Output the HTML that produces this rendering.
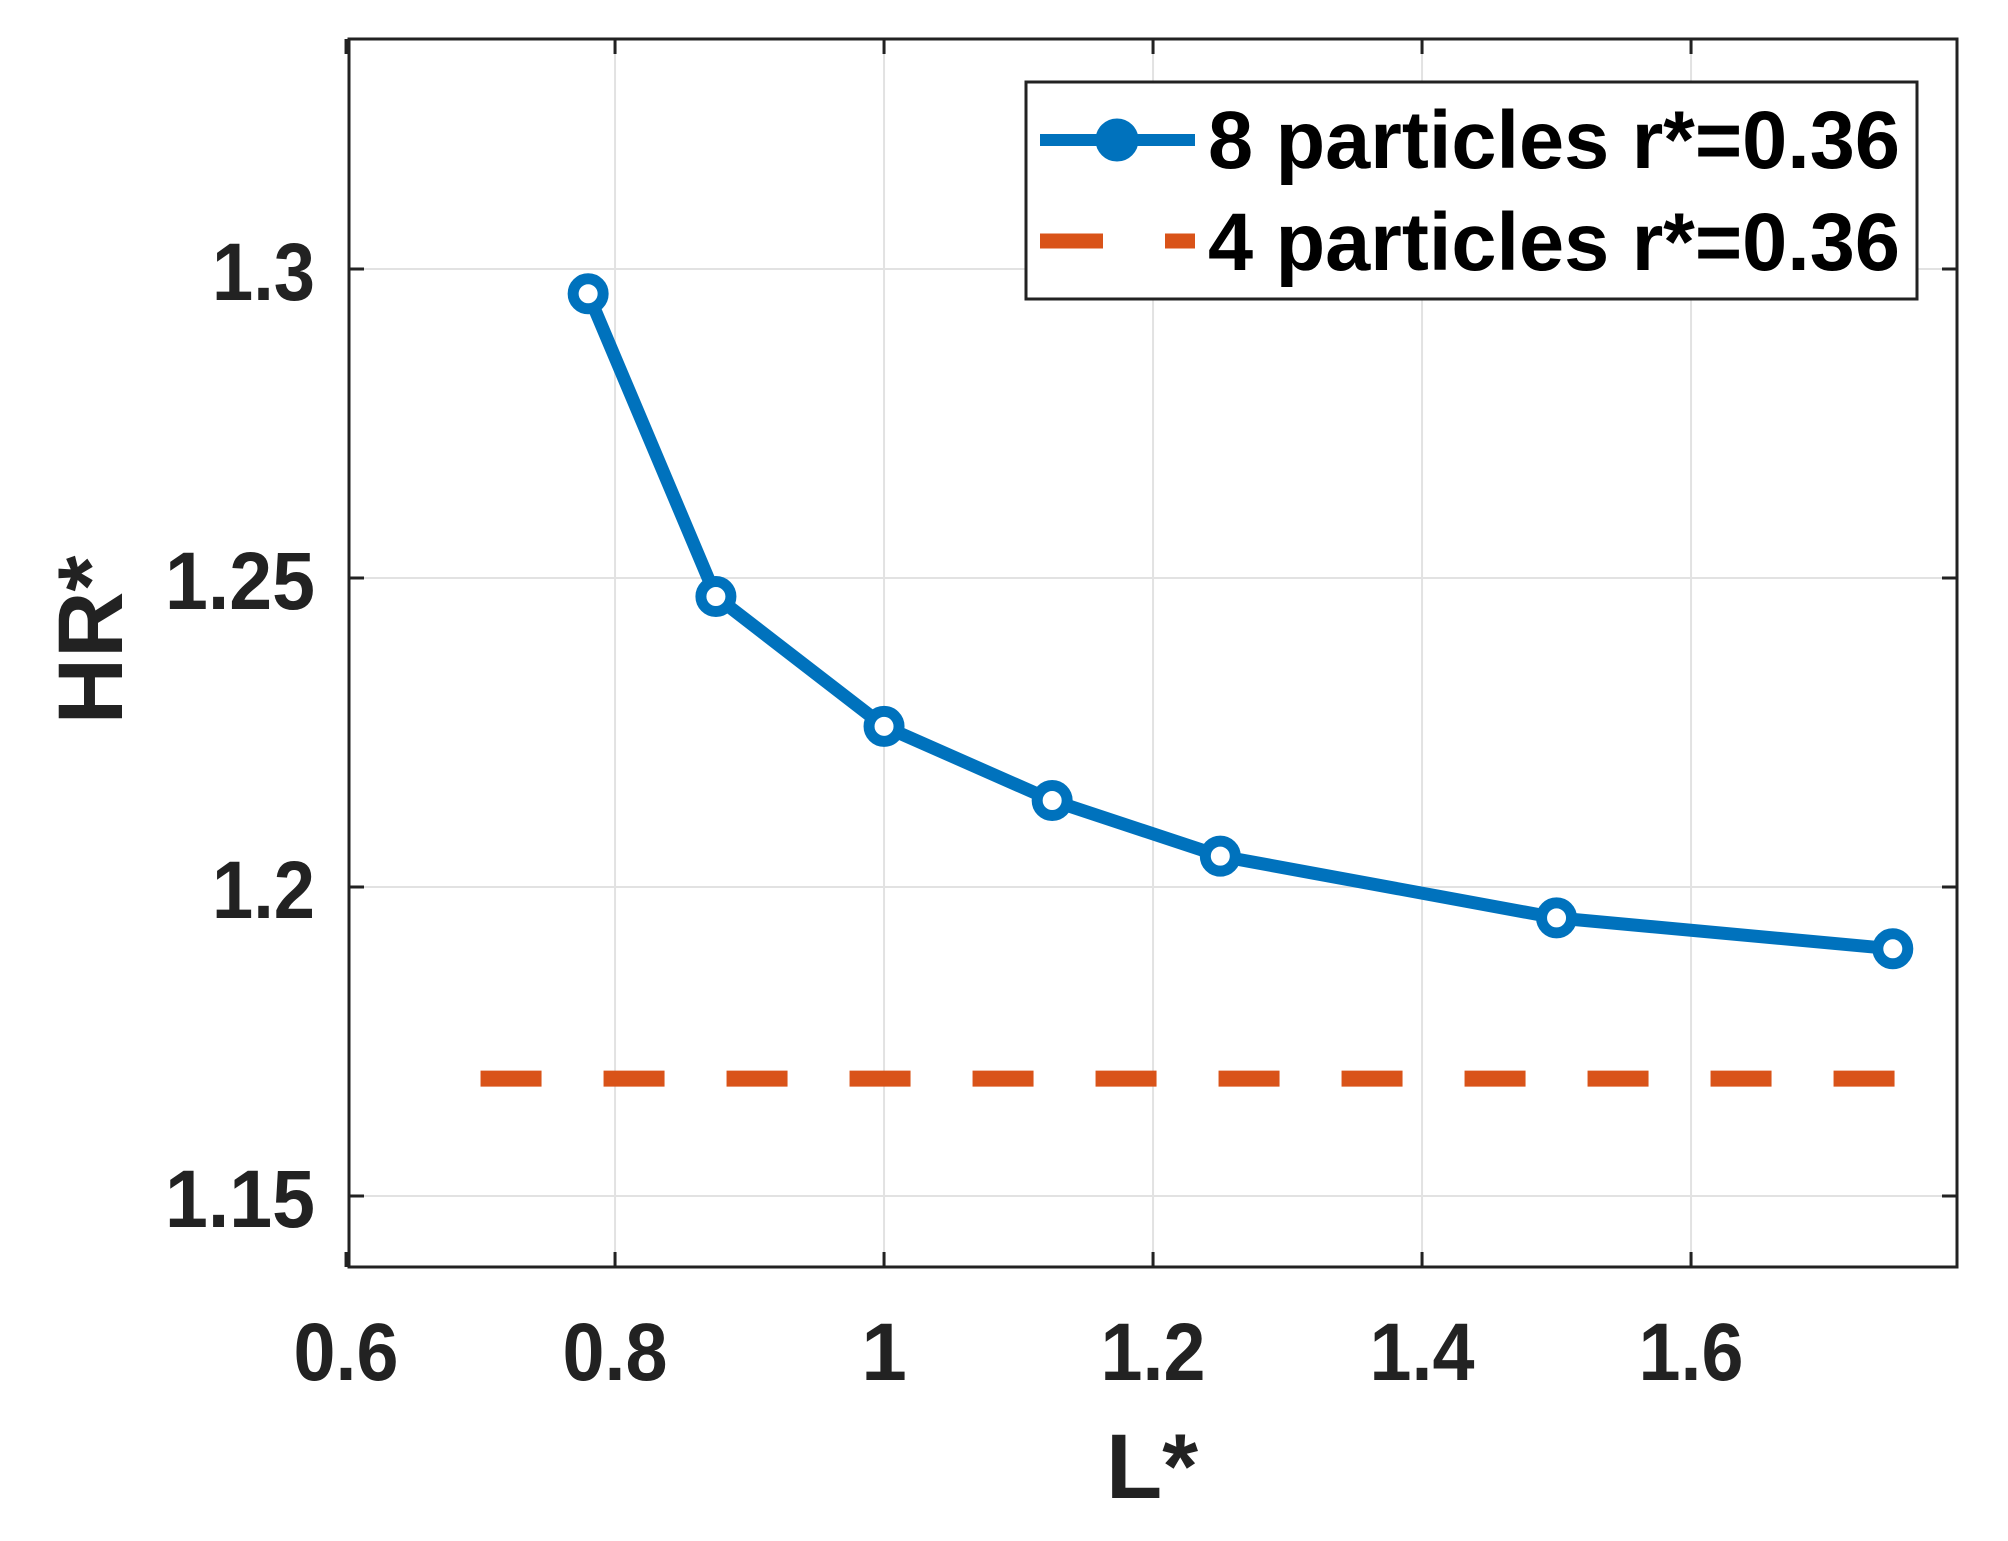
<!DOCTYPE html>
<html><head><meta charset="utf-8"><style>
html,body{margin:0;padding:0;background:#fff;}
svg{display:block;font-family:"Liberation Sans",Arial,sans-serif;font-weight:bold;}
</style></head><body>
<svg id="chart" width="2008" height="1541" viewBox="0 0 2008 1541">
<defs><clipPath id="plotclip"><rect x="349" y="39" width="1608" height="1228"/></clipPath></defs>
<rect x="0" y="0" width="2008" height="1541" fill="#fff"/>
<g id="grid"></g>
<g id="series" clip-path="url(#plotclip)"></g>
<g id="axes"></g>
<text x="1152" y="1498" font-size="92" text-anchor="middle" fill="#222">L*</text>
<text transform="translate(122,640) rotate(-90)" font-size="92" text-anchor="middle" fill="#222">HR*</text>
<g>
<rect x="1026" y="82" width="891" height="217" fill="#fff" stroke="#222" stroke-width="3"/>
<line x1="1040" y1="140" x2="1195" y2="140" stroke="#0072BD" stroke-width="12"/>
<circle cx="1117" cy="140" r="16" fill="#0072BD" stroke="#0072BD" stroke-width="11"/>
<text x="1208" y="168" font-size="82" textLength="692" lengthAdjust="spacingAndGlyphs" fill="#000">8 particles r*=0.36</text>
<line x1="1040" y1="241" x2="1195" y2="241" stroke="#D95319" stroke-width="15" stroke-dasharray="63 62"/>
<text x="1208" y="270" font-size="82" textLength="692" lengthAdjust="spacingAndGlyphs" fill="#000">4 particles r*=0.36</text>
</g>
</svg>
<script>
const xTicks = [0.6, 0.8, 1, 1.2, 1.4, 1.6];
const xTickLabels = ["0.6", "0.8", "1", "1.2", "1.4", "1.6"];
const yTicks = [1.15, 1.2, 1.25, 1.3];
const yTickLabels = ["1.15", "1.2", "1.25", "1.3"];
const lValues = [0.78, 0.875, 1.0, 1.125, 1.25, 1.5, 1.75];
const hr8 = [1.296, 1.247, 1.226, 1.214, 1.205, 1.195, 1.190];
const hr4 = [1.169];
const hr4Range = [0.7, 1.8];

const L = 349, R = 1957, T = 39, B = 1267;
const xMin = 0.6022, xMax = 0.6022 + (R - L) / 1345;
const yMin = 1.15 - (B - 1196) / 6180, yMax = 1.3 + (269 - T) / 6180;
const sx = v => L + (v - xMin) / (xMax - xMin) * (R - L);
const sy = v => B - (v - yMin) / (yMax - yMin) * (B - T);
const NS = "http://www.w3.org/2000/svg";
function mk(tag, attrs, parent){const e=document.createElementNS(NS,tag);for(const k in attrs)e.setAttribute(k,attrs[k]);parent.appendChild(e);return e;}
const grid=document.getElementById('grid'), axes=document.getElementById('axes'), series=document.getElementById('series');

xTicks.forEach((t,i)=>{
  const x=sx(t);
  if(x>L+2){const g=mk('line',{x1:x,y1:T,x2:x,y2:B,stroke:'#e2e2e2','stroke-width':2},grid);
  
  }
  const tk=mk('path',{d:`M${x},${B}v-15M${x},${T}v15`,stroke:'#222','stroke-width':3},axes);
  
  
  const s=xTickLabels[i];
  const lab=mk('text',{x:x,y:1380,'font-size':82,'text-anchor':'middle',fill:'#222'},axes);
  if(s.length===3){lab.setAttribute('textLength',105);lab.setAttribute('lengthAdjust','spacingAndGlyphs');}
  lab.textContent=s;
  
  
});
yTicks.forEach((t,i)=>{
  const y=sy(t);
  const g=mk('line',{x1:L,y1:y,x2:R,y2:y,stroke:'#e2e2e2','stroke-width':2},grid);
  
  
  const tk=mk('path',{d:`M${L},${y}h15M${R},${y}h-15`,stroke:'#222','stroke-width':3},axes);
  
  
  const s=yTickLabels[i];
  const lab=mk('text',{x:315,y:y+31,'font-size':82,'text-anchor':'end',fill:'#222',textLength:s.length===3?103:150,lengthAdjust:'spacingAndGlyphs'},axes);
  lab.textContent=s;
  
  
});
const frame=mk('rect',{x:L,y:T,width:R-L,height:B-T,fill:'none',stroke:'#222','stroke-width':3},axes);



const dl=mk('line',{x1:sx(hr4Range[0]),y1:sy(hr4[0]),x2:sx(hr4Range[1]),y2:sy(hr4[0]),stroke:'#D95319','stroke-width':16,'stroke-dasharray':'61 62'},series);



const pts=lValues.map((v,i)=>sx(v)+','+sy(hr8[i])).join(' ');
const pl=mk('polyline',{points:pts,fill:'none',stroke:'#0072BD','stroke-width':13,'stroke-linejoin':'round'},series);


lValues.forEach((v,i)=>{
  const c=mk('circle',{cx:sx(v),cy:sy(hr8[i]),r:15,fill:'#fff',stroke:'#0072BD','stroke-width':11},series);
  
  
});
</script>
</body></html>
